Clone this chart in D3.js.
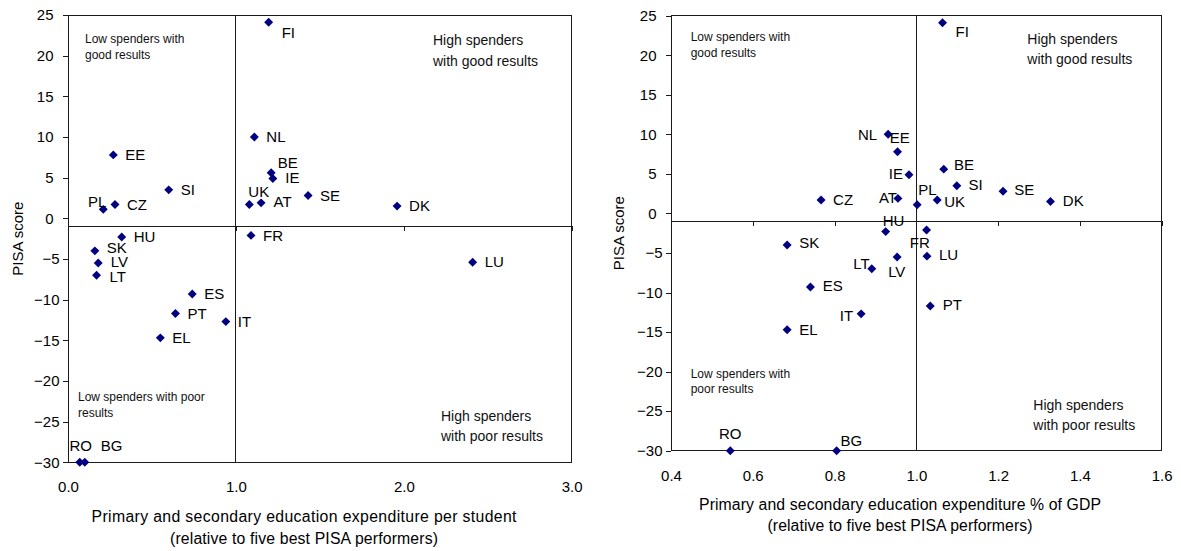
<!DOCTYPE html>
<html>
<head>
<meta charset="utf-8">
<script src="https://cdn.jsdelivr.net/npm/d3@7"></script>
<style>
  body { margin: 0; background: #fff; }
  svg { display: block; font-family: "Liberation Sans", Arial, sans-serif; }
</style>
</head>
<body>
<svg id="chart" width="1181" height="551"></svg>
<script>
// ---- Data -------------------------------------------------------------
const countries = ["FI","EE","SI","PL","CZ","NL","BE","IE","UK","AT","HU","FR",
                   "SE","DK","SK","LV","LT","ES","PT","IT","EL","RO","BG","LU"];

// PISA score (deviation), shared by both panels
const pisaScore = [24.1, 7.8, 3.5, 1.1, 1.7, 10.0, 5.6, 4.9, 1.7, 1.9, -2.3, -2.1,
                   2.8, 1.5, -4.0, -5.5, -7.0, -9.3, -11.7, -12.7, -14.7, -30, -30, -5.4];

// Expenditure per student, relative to five best PISA performers
const spendPerStudent = [1.195, 0.27, 0.60, 0.21, 0.28, 1.11, 1.21, 1.22, 1.08, 1.15, 0.32, 1.09,
                         1.43, 1.96, 0.16, 0.18, 0.17, 0.74, 0.64, 0.94, 0.55, 0.07, 0.10, 2.41];

// Expenditure as % of GDP, relative to five best PISA performers
const spendShareGDP = [1.064, 0.954, 1.099, 1.002, 0.767, 0.931, 1.067, 0.982, 1.051, 0.955, 0.925, 1.025,
                       1.212, 1.328, 0.684, 0.953, 0.891, 0.741, 1.034, 0.865, 0.684, 0.545, 0.805, 1.026];

const pisaTicks = [-30, -25, -20, -15, -10, -5, 0, 5, 10, 15, 20, 25];
const perStudentTicks = [0, 1, 2, 3];
const gdpTicks = [0.4, 0.6, 0.8, 1.0, 1.2, 1.4, 1.6];

const yTitle = "PISA score";
const perStudentTitle = ["Primary and secondary education expenditure per student",
                         "(relative to five best PISA performers)"];
const gdpTitle = ["Primary and secondary education expenditure % of GDP",
                  "(relative to five best PISA performers)"];

// ---- Label placement (offsets from each marker) -----------------------
const perStudentLabelPos = {
  FI: [13, 10], PL: [3, -8, "end"], BE: [6.5, -10], IE: [12.5, -0.7],
  UK: [-1, -13], AT: [12.5, -1], SK: [12, -3.5], LV: [12.5, -1], LT: [13, 1.5],
  RO: [1, -17, "middle"], BG: [16, -17]
};
const gdpLabelPos = {
  FI: [13, 9], NL: [-11, 0, "end"], EE: [-7.7, -13.7], IE: [-6, -1.3, "end"],
  BE: [10.3, -4], SI: [11.7, -1], SE: [11.3, -1.3], DK: [12.4, -0.7],
  AT: [-1, -0.7, "end"], PL: [1, -15], UK: [7, 2], HU: [-3, -11.3],
  FR: [-16.7, 12.6], SK: [12, -2], LV: [-9, 15], LU: [12, -1], PT: [12.4, -1],
  LT: [-2, -5, "end"], ES: [12.4, -1], IT: [-8, 1.7, "end"],
  RO: [0, -17.4, "middle"], BG: [4, -10]
};

const svg = d3.select("#chart");
const AXIS = "#1a1a1a";
const MARK = "#000080";

function drawPanel(cfg) {
  const x = d3.scaleLinear().domain(cfg.xDomain).range([cfg.left, cfg.right]);
  const y = d3.scaleLinear().domain([-30, 25]).range([cfg.bottom, cfg.top]);
  const g = svg.append("g");

  // plot frame
  g.append("rect")
    .attr("x", cfg.left).attr("y", cfg.top)
    .attr("width", cfg.right - cfg.left).attr("height", cfg.bottom - cfg.top)
    .attr("fill", "none").attr("stroke", AXIS).attr("shape-rendering", "crispEdges");

  // vertical divider at 1.0
  g.append("line")
    .attr("x1", x(1)).attr("x2", x(1)).attr("y1", cfg.top).attr("y2", cfg.bottom)
    .attr("stroke", AXIS).attr("shape-rendering", "crispEdges");

  // y axis (left)
  const ya = g.append("g")
    .attr("transform", `translate(${cfg.left},0)`)
    .call(d3.axisLeft(y).tickValues(pisaTicks).tickSize(5).tickSizeOuter(0).tickFormat(d3.format("d")))
    .attr("font-family", null).attr("font-size", 15);
  ya.select(".domain").remove();
  ya.selectAll(".tick line").attr("stroke", AXIS).attr("shape-rendering", "crispEdges");
  ya.selectAll(".tick text")
    .attr("fill", "#000")
    .attr("x", d => d < 0 ? -8.5 : -14.5);

  // x axis crossing at -1
  const y0 = y(-1);
  const xa = g.append("g")
    .attr("transform", `translate(0,${y0})`)
    .call(d3.axisBottom(x).tickValues(cfg.xTicks).tickSize(5).tickSizeOuter(0).tickFormat(d3.format(".1f")))
    .attr("font-family", null).attr("font-size", 15);
  xa.select(".domain").attr("stroke", AXIS).attr("shape-rendering", "crispEdges");
  xa.selectAll(".tick line").attr("stroke", AXIS).attr("shape-rendering", "crispEdges");
  xa.selectAll(".tick text")
    .attr("fill", "#000")
    .attr("y", cfg.xLabelY - y0)
    .attr("dy", "0.35em");

  // axis titles
  g.append("text")
    .attr("transform", `translate(${cfg.yTitleX},${(cfg.top + cfg.bottom) / 2}) rotate(-90)`)
    .attr("text-anchor", "middle").attr("dy", "0.35em")
    .attr("font-size", 15).text(yTitle);
  cfg.xTitle.forEach((t, i) => {
    g.append("text")
      .attr("x", cfg.xTitleX - cfg.xTitleLen[i] / 2).attr("y", cfg.xTitleY[i]).attr("dy", "0.35em")
      .attr("font-size", 15.8)
      .attr("textLength", cfg.xTitleLen[i]).attr("lengthAdjust", "spacing")
      .text(t);
  });

  // quadrant notes
  cfg.notes.forEach(n => {
    n.lines.forEach((t, i) => {
      g.append("text")
        .attr("x", n.x).attr("y", n.y + i * n.gap).attr("dy", "0.35em")
        .attr("font-size", n.size).attr("fill", "#111").text(t);
    });
  });

  // markers and country labels
  const pts = countries.map((c, i) => ({ c, xv: cfg.xValues[i], yv: pisaScore[i] }));
  g.selectAll("path.pt").data(pts).join("path")
    .attr("class", "pt")
    .attr("d", d3.symbol(d3.symbolSquare, 40))
    .attr("transform", d => `translate(${x(d.xv)},${y(d.yv)}) rotate(45)`)
    .attr("fill", MARK);

  g.selectAll("text.lbl").data(pts).join("text")
    .attr("class", "lbl")
    .attr("x", d => x(d.xv) + (cfg.labelPos[d.c] || [12, 0])[0])
    .attr("y", d => y(d.yv) + (cfg.labelPos[d.c] || [12, 0])[1])
    .attr("dy", "0.35em")
    .attr("text-anchor", d => (cfg.labelPos[d.c] || [])[2] || "start")
    .attr("font-size", 15).attr("fill", "#000")
    .text(d => d.c);
}

drawPanel({
  left: 68, right: 571.7, top: 15, bottom: 462.3,
  xDomain: [0, 3], xTicks: perStudentTicks, xValues: spendPerStudent,
  xLabelY: 487, yTitleX: 17.5, xTitle: perStudentTitle, xTitleX: 304, xTitleY: [516, 538],
  xTitleLen: [425, 268],
  labelPos: perStudentLabelPos,
  notes: [
    { lines: ["Low spenders with", "good results"], x: 85, y: 39, gap: 15.5, size: 12 },
    { lines: ["High spenders", "with good results"], x: 433, y: 40, gap: 21, size: 14 },
    { lines: ["Low spenders with poor", "results"], x: 78, y: 396.7, gap: 16, size: 12 },
    { lines: ["High spenders", "with poor results"], x: 441, y: 416, gap: 20, size: 14 }
  ]
});

drawPanel({
  left: 671, right: 1161.7, top: 15.7, bottom: 450.7,
  xDomain: [0.4, 1.6], xTicks: gdpTicks, xValues: spendShareGDP,
  xLabelY: 475.7, yTitleX: 619.2, xTitle: gdpTitle, xTitleX: 900, xTitleY: [504, 525],
  xTitleLen: [402, 265],
  labelPos: gdpLabelPos,
  notes: [
    { lines: ["Low spenders with", "good results"], x: 690.7, y: 36.7, gap: 15.6, size: 12 },
    { lines: ["High spenders", "with good results"], x: 1027.3, y: 39.3, gap: 20, size: 14 },
    { lines: ["Low spenders with", "poor results"], x: 690.7, y: 374, gap: 15, size: 12 },
    { lines: ["High spenders", "with poor results"], x: 1033.3, y: 405, gap: 20, size: 14 }
  ]
});
</script>
</body>
</html>
